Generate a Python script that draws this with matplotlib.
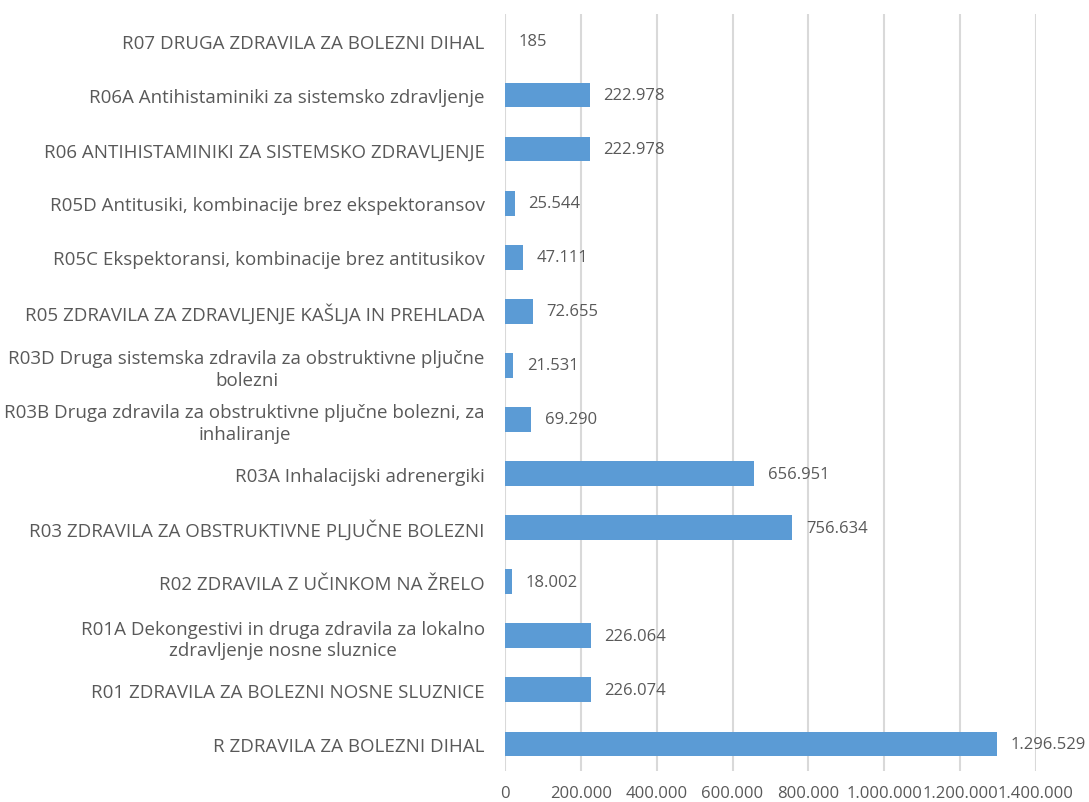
import matplotlib.pyplot as plt
import numpy as np

plt.rcParams['font.family'] = ['Open Sans', 'DejaVu Sans']

categories = [
    "R ZDRAVILA ZA BOLEZNI DIHAL",
    "R01 ZDRAVILA ZA BOLEZNI NOSNE SLUZNICE",
    "R01A Dekongestivi in druga zdravila za lokalno\nzdravljenje nosne sluznice",
    "R02 ZDRAVILA Z UČINKOM NA ŽRELO",
    "R03 ZDRAVILA ZA OBSTRUKTIVNE PLJUČNE BOLEZNI",
    "R03A Inhalacijski adrenergiki",
    "R03B Druga zdravila za obstruktivne pljučne bolezni, za\ninhaliranje",
    "R03D Druga sistemska zdravila za obstruktivne pljučne\nbolezni",
    "R05 ZDRAVILA ZA ZDRAVLJENJE KAŠLJA IN PREHLADA",
    "R05C Ekspektoransi, kombinacije brez antitusikov",
    "R05D Antitusiki, kombinacije brez ekspektoransov",
    "R06 ANTIHISTAMINIKI ZA SISTEMSKO ZDRAVLJENJE",
    "R06A Antihistaminiki za sistemsko zdravljenje",
    "R07 DRUGA ZDRAVILA ZA BOLEZNI DIHAL",
]
values = [1296529, 226074, 226064, 18002, 756634, 656951, 69290,
          21531, 72655, 47111, 25544, 222978, 222978, 185]
xticks = [0, 200000, 400000, 600000, 800000, 1000000, 1200000, 1400000]


def fmt(v):
    return f"{v:,}".replace(",", ".")


text_col = "#595959"
fig = plt.figure(figsize=(10.89, 8.03), dpi=100)
ax = fig.add_axes([0.4637, 0.039, 0.4876, 0.942])

y = np.arange(len(categories))
ax.barh(y, values, height=0.45, color="#5B9BD5", zorder=3)
for yi, v in zip(y, values):
    ax.annotate(fmt(v), (v, yi), xytext=(10, 0), textcoords="offset points",
                va="center", ha="left", fontsize=12, color=text_col)

ax.set_xlim(0, 1400000)
ax.set_ylim(-0.5, len(categories) - 0.5)
ax.set_yticks(y)
ax.set_yticklabels(categories, fontsize=13.5, color=text_col,
                   multialignment="center", linespacing=1.25)
ax.set_xticks(xticks)
ax.set_xticklabels([fmt(t) for t in xticks], fontsize=12, color=text_col)
ax.tick_params(axis="both", length=0)
ax.tick_params(axis="y", pad=14.5)
ax.tick_params(axis="x", pad=10)
ax.grid(axis="x", color="#D9D9D9", linewidth=1.5, zorder=0)
for s in ax.spines.values():
    s.set_visible(False)

fig.savefig("out.png", dpi=100)
